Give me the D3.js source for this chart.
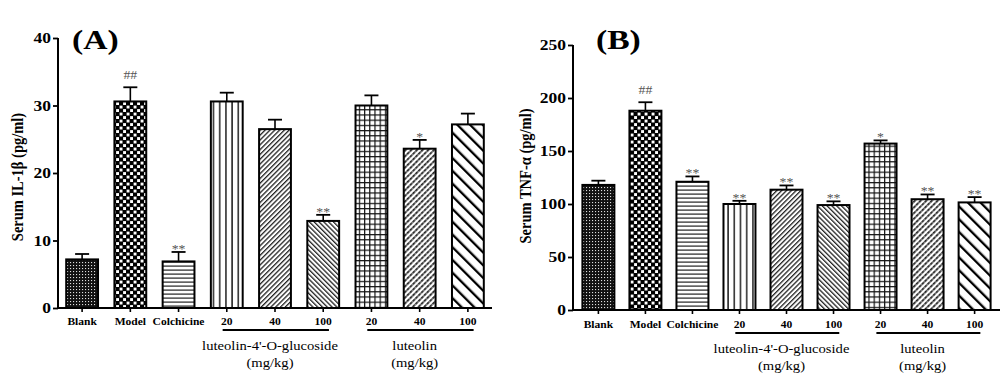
<!DOCTYPE html>
<html>
  <head>
    <meta charset="utf-8" />
    <script src="https://d3js.org/d3.v7.min.js"></script>
    <style>
      body { margin: 0; background: #fff; }
      text { font-family: "Liberation Serif", "Times New Roman", serif; }
    </style>
  </head>
  <body>
    <svg id="chart" width="1006" height="376"></svg>
    <script>
      // data
      const categories = ["Blank", "Model", "Colchicine", "20", "40", "100", "20", "40", "100"];
      const il1bMean = [7.2, 30.6, 6.9, 30.6, 26.5, 12.9, 30.0, 23.6, 27.2];
      const il1bErr = [0.8, 2.1, 1.4, 1.3, 1.4, 0.9, 1.5, 1.3, 1.6];
      const il1bSig = ["", "##", "**", "", "", "**", "", "*", ""];
      const tnfMean = [118, 188, 121, 100, 113.5, 99, 157, 104.5, 101.5];
      const tnfErr = [4, 8, 5, 3, 4, 3.5, 3, 4.5, 5];
      const tnfSig = ["", "##", "**", "**", "**", "**", "*", "**", "**"];
      const il1bTicks = [0, 10, 20, 30, 40];
      const tnfTicks = [0, 50, 100, 150, 200, 250];
      const groupNames = ["luteolin-4'-O-glucoside", "luteolin"];
      const groupStart = [3, 6];
      const groupEnd = [5, 8];
      const patternIds = ["dots", "checker", "hlines", "vlines", "fwd", "back", "grid", "fwdDense", "backWide"];

      const svg = d3.select("#chart");
      const defs = svg.append("defs");

      // fill patterns
      function pat(id, w, h, rot) {
        const p = defs.append("pattern")
          .attr("id", id)
          .attr("patternUnits", "userSpaceOnUse")
          .attr("width", w)
          .attr("height", h);
        if (rot) p.attr("patternTransform", "rotate(" + rot + ")");
        return p;
      }
      let p = pat("dots", 3, 3);
      p.append("rect").attr("width", 3).attr("height", 3).attr("fill", "#111");
      p.append("rect").attr("x", 1).attr("y", 1).attr("width", 1.1).attr("height", 1.1).attr("fill", "#ddd");

      p = pat("checker", 7, 7);
      p.append("rect").attr("width", 7).attr("height", 7).attr("fill", "#000");
      p.append("rect").attr("x", 0.6).attr("y", 0.6).attr("width", 2.9).attr("height", 2.9).attr("fill", "#fff");
      p.append("rect").attr("x", 4.1).attr("y", 4.1).attr("width", 2.9).attr("height", 2.9).attr("fill", "#fff");

      p = pat("hlines", 4, 4);
      p.append("rect").attr("width", 4).attr("height", 4).attr("fill", "#fff");
      p.append("rect").attr("y", 1.5).attr("width", 4).attr("height", 1.2).attr("fill", "#222");

      p = pat("vlines", 6.2, 6);
      p.append("rect").attr("width", 6.2).attr("height", 6).attr("fill", "#fff");
      p.append("rect").attr("x", 2).attr("width", 1.4).attr("height", 6).attr("fill", "#111");

      p = pat("fwd", 3.4, 3.4, 45);
      p.append("rect").attr("width", 3.4).attr("height", 3.4).attr("fill", "#fff");
      p.append("rect").attr("width", 1.3).attr("height", 3.4).attr("fill", "#222");

      p = pat("back", 3.4, 3.4, -45);
      p.append("rect").attr("width", 3.4).attr("height", 3.4).attr("fill", "#fff");
      p.append("rect").attr("width", 1.3).attr("height", 3.4).attr("fill", "#222");

      p = pat("grid", 5.2, 5.2);
      p.append("rect").attr("width", 5.2).attr("height", 5.2).attr("fill", "#fff");
      p.append("rect").attr("x", 0).attr("width", 1.2).attr("height", 5.2).attr("fill", "#111");
      p.append("rect").attr("y", 0).attr("width", 5.2).attr("height", 1.2).attr("fill", "#111");

      p = pat("fwdDense", 4, 4, 45);
      p.append("rect").attr("width", 4).attr("height", 4).attr("fill", "#fff");
      p.append("rect").attr("width", 1.8).attr("height", 4).attr("fill", "#222");
      p.append("rect").attr("y", 1.6).attr("width", 4).attr("height", 0.6).attr("fill", "#fff");

      p = pat("backWide", 9, 9, -45);
      p.append("rect").attr("width", 9).attr("height", 9).attr("fill", "#fff");
      p.append("rect").attr("width", 2.3).attr("height", 9).attr("fill", "#000");

      // text helper with the slight horizontal stretch of the scanned figure
      function txt(g, x, y, s, size, opts) {
        opts = opts || {};
        const sx = opts.sx || 1.2;
        const rot = opts.rot ? " rotate(" + opts.rot + ")" : "";
        const sc = opts.rot ? " scale(1," + sx + ")" : " scale(" + sx + ",1)";
        return g.append("text")
          .attr("transform", "translate(" + x + "," + y + ")" + rot + sc)
          .attr("text-anchor", opts.anchor || "middle")
          .attr("font-size", size)
          .attr("font-weight", opts.bold === false ? "normal" : "bold")
          .attr("fill", opts.fill || "#000")
          .text(s);
      }

      function drawPanel(cfg) {
        const g = svg.append("g");
        const x = d3.scaleBand()
          .domain(d3.range(categories.length))
          .range([cfg.x0, cfg.x1])
          .paddingInner(cfg.pin)
          .paddingOuter(cfg.pout);
        const y = d3.scaleLinear().domain(cfg.domain).range([cfg.y0, cfg.y1]);
        const bw = x.bandwidth();

        // bars
        g.selectAll("rect.bar")
          .data(cfg.mean)
          .join("rect")
          .attr("class", "bar")
          .attr("x", (d, i) => x(i))
          .attr("y", d => y(d))
          .attr("width", bw)
          .attr("height", d => y(0) - y(d))
          .attr("fill", (d, i) => "url(#" + patternIds[i] + ")")
          .attr("stroke", "#000")
          .attr("stroke-width", 2);

        // error bars
        const eb = g.selectAll("g.err")
          .data(cfg.mean)
          .join("g")
          .attr("class", "err");
        eb.append("line")
          .attr("x1", (d, i) => x(i) + bw / 2)
          .attr("x2", (d, i) => x(i) + bw / 2)
          .attr("y1", d => y(d))
          .attr("y2", (d, i) => y(d + cfg.err[i]))
          .attr("stroke", "#000")
          .attr("stroke-width", 1.6);
        eb.append("line")
          .attr("x1", (d, i) => x(i) + bw / 2 - 7)
          .attr("x2", (d, i) => x(i) + bw / 2 + 7)
          .attr("y1", (d, i) => y(d + cfg.err[i]))
          .attr("y2", (d, i) => y(d + cfg.err[i]))
          .attr("stroke", "#000")
          .attr("stroke-width", 1.8);

        // significance marks
        cfg.sig.forEach((s, i) => {
          if (!s) return;
          const top = y(cfg.mean[i] + cfg.err[i]);
          const yy = s === "##" ? top - 8 : top + 1;
          txt(g, x(i) + bw / 2, yy, s, 12, { bold: false, fill: "#555", sx: 1.15 });
        });

        // y axis
        const yAxis = g.append("g")
          .attr("transform", "translate(" + cfg.x0 + ",0)")
          .call(d3.axisLeft(y).tickValues(cfg.ticks).tickSize(5).tickSizeOuter(0).tickFormat(d3.format("d")));
        yAxis.select(".domain").attr("stroke-width", 2).attr("d", "M0," + y(0) + "V" + y(cfg.domain[1]));
        yAxis.selectAll(".tick line").attr("stroke-width", 1.8);
        yAxis.selectAll(".tick text").remove();
        cfg.ticks.forEach(t => txt(g, cfg.x0 - 7, y(t) + 5, String(t), 14, { anchor: "end", sx: 1.25 }));

        // x axis
        g.append("line")
          .attr("x1", cfg.x0 - 1).attr("x2", cfg.x1)
          .attr("y1", y(0)).attr("y2", y(0))
          .attr("stroke", "#000").attr("stroke-width", 2);
        g.selectAll("line.xt")
          .data(categories)
          .join("line")
          .attr("class", "xt")
          .attr("x1", (d, i) => x(i) + bw / 2)
          .attr("x2", (d, i) => x(i) + bw / 2)
          .attr("y1", y(0)).attr("y2", y(0) + 4)
          .attr("stroke", "#000").attr("stroke-width", 1.6);
        categories.forEach((c, i) => txt(g, x(i) + bw / 2, y(0) + cfg.labelDy, c, 10.5, { sx: 1.1 }));

        // group brackets
        groupNames.forEach((name, k) => {
          const a = x(groupStart[k]) + bw * 0.37;
          const b = x(groupEnd[k]) + bw * 0.68;
          g.append("line")
            .attr("x1", a).attr("x2", b)
            .attr("y1", y(0) + cfg.lineDy).attr("y2", y(0) + cfg.lineDy)
            .attr("stroke", "#000").attr("stroke-width", 1.8);
          const cx = (x(groupStart[k]) + x(groupEnd[k]) + bw) / 2 - 5;
          txt(g, cx, y(0) + cfg.lineDy + 20, name, 12.5, { bold: false, sx: 1.17 });
          txt(g, cx, y(0) + cfg.lineDy + 37, "(mg/kg)", 12.5, { bold: false, sx: 1.17 });
        });

        // y title and panel tag
        txt(g, cfg.titleX, cfg.titleY, cfg.yTitle, 14.5, { rot: -90, sx: 1.15 });
        txt(g, cfg.tagX, cfg.tagY, cfg.tag, 28, { anchor: "start", sx: 1.2 });
      }

      drawPanel({
        x0: 58, x1: 492, pin: 0.34, pout: 0.17,
        y0: 308, y1: 38, domain: [0, 40], ticks: il1bTicks,
        mean: il1bMean, err: il1bErr, sig: il1bSig,
        labelDy: 17, lineDy: 22,
        yTitle: "Serum IL-1\u03b2  (pg/ml)", titleX: 23, titleY: 177,
        tag: "(A)", tagX: 72, tagY: 49
      });

      drawPanel({
        x0: 573, x1: 1000, pin: 0.32, pout: 0.2,
        y0: 310, y1: 45, domain: [0, 250], ticks: tnfTicks,
        mean: tnfMean, err: tnfErr, sig: tnfSig,
        labelDy: 18, lineDy: 23,
        yTitle: "Serum TNF-\u03b1  (pg/ml)", titleX: 531, titleY: 176,
        tag: "(B)", tagX: 596, tagY: 49
      });
    </script>
  </body>
</html>
